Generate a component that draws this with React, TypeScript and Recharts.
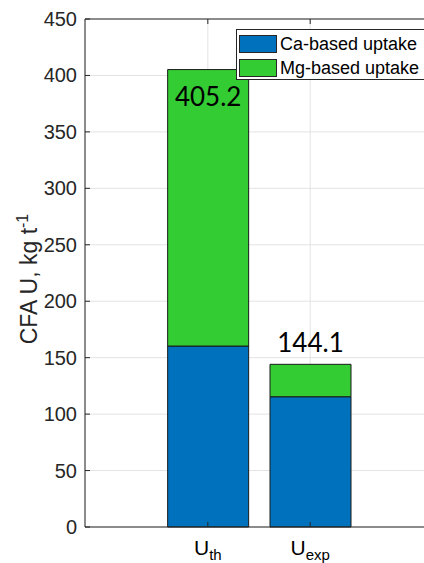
import { BarChart, Bar, XAxis, YAxis, CartesianGrid, LabelList, ReferenceLine } from "recharts";

/* ── data ── */
const cats = ["th", "exp"];
const pos = [1, 2];
const ca = [160.3, 115.4];
const mg = [244.9, 28.7];
const totals = ["405.2", "144.1"];
const yTicks = [0, 50, 100, 150, 200, 250, 300, 350, 400, 450];
const legendItems = ["Ca-based uptake", "Mg-based uptake"];

const C = {
  blue: "#0072BD",
  green: "#33CC33",
  edge: "#1a1a1a",
  axis: "#262626",
  grid: "#e3e3e3",
};

const FONT = "'Liberation Sans', Arial, sans-serif";

const data = cats.map((c, i) => ({ x: pos[i], name: c, ca: ca[i], mg: mg[i], tot: totals[i] }));

/* bottom tick label, plus MATLAB-style inward tick marks top & bottom */
const XTick = ({ x, payload }: any) => {
  const i = pos.indexOf(payload.value);
  return (
    <g>
      <line x1={x} x2={x} y1={527} y2={522} stroke={C.axis} />
      <line x1={x} x2={x} y1={19} y2={24} stroke={C.axis} />
      <text x={x} y={555} textAnchor="middle" fill="#000" fontFamily={FONT} fontSize={21}>
        U
        <tspan fontSize={15} dy={5}>{cats[i]}</tspan>
      </text>
    </g>
  );
};

const YTick = ({ y, payload }: any) => (
  <g>
    <line x1={85} x2={90} y1={y} y2={y} stroke={C.axis} />
    <text x={77} y={y} dy={7} textAnchor="end" fill={C.axis} fontFamily={FONT} fontSize={20}>
      {payload.value}
    </text>
  </g>
);

const TotLabel = (p: any) => {
  const { x, y, width, index } = p;
  const inside = index === 0;
  return (
    <text
      x={x + width / 2}
      y={inside ? y + 36 : y - 12}
      textAnchor="middle"
      fill="#000"
      fontFamily="Lato, 'Open Sans', sans-serif"
      fontSize={26}
    >
      {totals[index]}
    </text>
  );
};

const LegendBox = () => (
  <div
    style={{
      position: "absolute",
      left: 236,
      top: 29,
      background: "#fff",
      border: `1px solid ${C.axis}`,
      width: 200,
      height: 51,
      fontFamily: FONT,
      fontSize: 18,
      color: "#000",
      padding: "3px 0 0 2px",
      boxSizing: "border-box",
    }}
  >
    {legendItems.map((t, i) => (
      <div key={t} style={{ display: "flex", alignItems: "center", height: 22, marginBottom: 2 }}>
        <span
          style={{
            width: 38,
            height: 18,
            background: i === 0 ? C.blue : C.green,
            border: `1px solid ${C.axis}`,
            marginRight: 3,
            boxSizing: "border-box",
          }}
        />
        <span>{t}</span>
      </div>
    ))}
  </div>
);

export default function App() {
  return (
    <div style={{ position: "absolute", left: 0, top: 0, width: 424, height: 563, overflow: "hidden", background: "#fff" }}>
      <BarChart width={440} height={563} data={data} margin={{ top: 19, right: 7, bottom: 6, left: 0 }}>
        <CartesianGrid stroke={C.grid} />
        <XAxis
          dataKey="x"
          type="number"
          domain={[-0.2, 3.2]}
          ticks={pos}
          height={30}
          stroke={C.axis}
          tickLine={false}
          tick={<XTick />}
        />
        <YAxis
          domain={[0, 450]}
          ticks={yTicks}
          width={85}
          stroke={C.axis}
          tickLine={false}
          tick={<YTick />}
          label={{
            content: () => (
              <text
                transform="translate(37,279) rotate(-90)"
                textAnchor="middle"
                fill={C.axis}
                fontFamily={FONT}
                fontSize={23}
              >
                CFA U, kg t
                <tspan fontSize={16} dy={-9}>-1</tspan>
              </text>
            ),
          }}
        />
        <ReferenceLine y={450} stroke={C.axis} />
        <Bar dataKey="ca" stackId="s" fill={C.blue} stroke={C.edge} barSize={81} isAnimationActive={false} />
        <Bar dataKey="mg" stackId="s" fill={C.green} stroke={C.edge} barSize={81} isAnimationActive={false}>
          <LabelList dataKey="tot" content={<TotLabel />} />
        </Bar>
      </BarChart>
      <LegendBox />
    </div>
  );
}
